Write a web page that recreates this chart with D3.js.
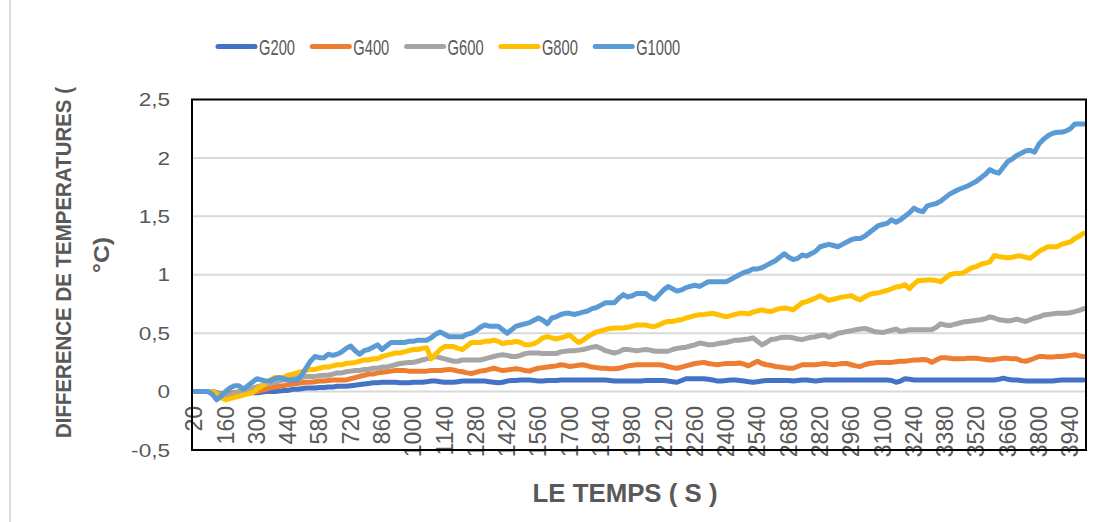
<!DOCTYPE html>
<html><head><meta charset="utf-8">
<script src="https://cdn.jsdelivr.net/npm/d3@7"></script>
<style>body{margin:0;background:#fff;} svg{display:block;}</style>
</head><body>
<svg id="c" width="1107" height="522"></svg>
<script>
const times = [
20,40,60,80,100,120,140,160,180,200,
220,240,260,280,300,320,340,360,380,400,
420,440,460,480,500,520,540,560,580,600,
620,640,660,680,700,720,740,760,780,800,
820,840,860,880,900,920,940,960,980,1000,
1020,1040,1060,1080,1100,1120,1140,1160,1180,1200,
1220,1240,1260,1280,1300,1320,1340,1360,1380,1400,
1420,1440,1460,1480,1500,1520,1540,1560,1580,1600,
1620,1640,1660,1680,1700,1720,1740,1760,1780,1800,
1820,1840,1860,1880,1900,1920,1940,1960,1980,2000,
2020,2040,2060,2080,2100,2120,2140,2160,2180,2200,
2220,2240,2260,2280,2300,2320,2340,2360,2380,2400,
2420,2440,2460,2480,2500,2520,2540,2560,2580,2600,
2620,2640,2660,2680,2700,2720,2740,2760,2780,2800,
2820,2840,2860,2880,2900,2920,2940,2960,2980,3000,
3020,3040,3060,3080,3100,3120,3140,3160,3180,3200,
3220,3240,3260,3280,3300,3320,3340,3360,3380,3400,
3420,3440,3460,3480,3500,3520,3540,3560,3580,3600,
3620,3640,3660,3680,3700,3720,3740,3760,3780,3800,
3820,3840,3860,3880,3900,3920,3940,3960,3980,4000];

const xTickLabels = ["20","160","300","440","580","720","860","1000","1140","1280","1420","1560","1700","1840","1980","2120","2260","2400","2540","2680","2820","2960","3100","3240","3380","3520","3660","3800","3940"];
const yTickValues = [-0.5,0,0.5,1,1.5,2,2.5];
const yTickLabels = ["-0,5","0","0,5","1","1,5","2","2,5"];
const seriesNames = ["G200","G400","G600","G800","G1000"];
const seriesColors = ["#4472C4","#ED7D31","#A5A5A5","#FFC000","#5B9BD5"];

const g200 = [
0,0,0,0,0,-0.01,-0.02,-0.03,-0.02,-0.02,
-0.01,-0.01,-0.01,-0.01,-0.01,-0.005,0,0,0,0.005,
0.01,0.01,0.02,0.02,0.025,0.03,0.03,0.03,0.035,0.035,
0.04,0.04,0.045,0.045,0.045,0.05,0.055,0.06,0.065,0.07,
0.075,0.075,0.08,0.08,0.08,0.08,0.075,0.075,0.075,0.08,
0.08,0.08,0.085,0.09,0.09,0.085,0.08,0.08,0.08,0.085,
0.09,0.09,0.09,0.09,0.09,0.09,0.085,0.08,0.075,0.08,
0.09,0.095,0.095,0.1,0.1,0.1,0.095,0.09,0.09,0.095,
0.095,0.095,0.1,0.1,0.1,0.1,0.1,0.1,0.1,0.1,
0.1,0.1,0.1,0.095,0.09,0.09,0.09,0.09,0.09,0.09,
0.09,0.095,0.095,0.095,0.095,0.095,0.09,0.085,0.08,0.095,
0.11,0.11,0.11,0.11,0.11,0.105,0.1,0.09,0.09,0.095,
0.1,0.1,0.095,0.09,0.085,0.08,0.085,0.09,0.095,0.095,
0.095,0.095,0.095,0.095,0.09,0.095,0.1,0.1,0.095,0.09,
0.095,0.1,0.1,0.1,0.1,0.1,0.1,0.1,0.1,0.1,
0.1,0.1,0.1,0.1,0.1,0.1,0.095,0.08,0.09,0.11,
0.105,0.1,0.1,0.1,0.1,0.1,0.1,0.1,0.1,0.1,
0.1,0.1,0.1,0.1,0.1,0.1,0.1,0.1,0.1,0.1,
0.105,0.115,0.105,0.1,0.1,0.095,0.09,0.09,0.09,0.09,
0.09,0.09,0.09,0.095,0.1,0.1,0.1,0.1,0.1,0.1];

const g400 = [
0,0,0,0,0,-0.01,-0.02,-0.02,-0.01,-0.01,
0,0,0,0,0,0.01,0.02,0.03,0.04,0.045,
0.05,0.06,0.065,0.07,0.075,0.08,0.08,0.085,0.09,0.09,
0.095,0.1,0.1,0.1,0.1,0.11,0.12,0.13,0.14,0.15,
0.15,0.16,0.165,0.17,0.175,0.18,0.18,0.18,0.175,0.175,
0.175,0.175,0.175,0.18,0.18,0.18,0.185,0.19,0.185,0.175,
0.17,0.16,0.155,0.165,0.175,0.18,0.19,0.2,0.19,0.18,
0.185,0.19,0.195,0.19,0.18,0.175,0.19,0.2,0.205,0.21,
0.215,0.22,0.23,0.225,0.215,0.22,0.225,0.23,0.22,0.21,
0.205,0.2,0.2,0.195,0.195,0.2,0.21,0.22,0.225,0.23,
0.23,0.23,0.23,0.23,0.23,0.225,0.215,0.205,0.2,0.21,
0.22,0.23,0.24,0.245,0.25,0.24,0.235,0.23,0.235,0.24,
0.24,0.24,0.245,0.235,0.22,0.24,0.26,0.24,0.23,0.225,
0.215,0.21,0.205,0.2,0.2,0.215,0.23,0.23,0.23,0.23,
0.235,0.24,0.235,0.23,0.235,0.24,0.24,0.23,0.22,0.215,
0.23,0.24,0.245,0.25,0.25,0.25,0.25,0.255,0.26,0.26,
0.265,0.27,0.27,0.275,0.27,0.25,0.27,0.29,0.29,0.285,
0.28,0.28,0.28,0.285,0.285,0.285,0.28,0.275,0.27,0.275,
0.28,0.285,0.285,0.28,0.28,0.265,0.26,0.27,0.285,0.3,
0.3,0.295,0.295,0.3,0.3,0.305,0.31,0.315,0.305,0.3];

const g600 = [
0,0,0,0,0,-0.01,-0.03,-0.04,-0.03,-0.02,
0,0.01,0.02,0.03,0.04,0.05,0.06,0.07,0.08,0.09,
0.1,0.11,0.11,0.12,0.12,0.13,0.13,0.13,0.135,0.14,
0.14,0.15,0.16,0.16,0.17,0.175,0.18,0.18,0.19,0.19,
0.2,0.2,0.21,0.21,0.22,0.23,0.24,0.245,0.25,0.25,
0.26,0.27,0.28,0.29,0.3,0.29,0.28,0.27,0.26,0.26,
0.27,0.27,0.27,0.27,0.27,0.28,0.29,0.3,0.31,0.315,
0.31,0.3,0.3,0.31,0.325,0.33,0.33,0.33,0.325,0.325,
0.325,0.325,0.34,0.345,0.35,0.35,0.355,0.36,0.37,0.38,
0.385,0.37,0.35,0.34,0.33,0.34,0.36,0.36,0.355,0.35,
0.355,0.36,0.355,0.345,0.345,0.345,0.345,0.36,0.37,0.375,
0.38,0.39,0.4,0.415,0.41,0.4,0.4,0.41,0.415,0.42,
0.43,0.44,0.44,0.445,0.45,0.46,0.43,0.4,0.42,0.445,
0.45,0.46,0.465,0.465,0.46,0.45,0.445,0.455,0.465,0.47,
0.48,0.485,0.465,0.48,0.5,0.505,0.515,0.52,0.53,0.535,
0.54,0.53,0.515,0.51,0.505,0.515,0.525,0.535,0.515,0.52,
0.53,0.53,0.53,0.53,0.53,0.53,0.55,0.58,0.57,0.565,
0.575,0.585,0.595,0.6,0.605,0.61,0.615,0.625,0.64,0.63,
0.615,0.61,0.605,0.61,0.62,0.61,0.6,0.615,0.63,0.64,
0.655,0.66,0.665,0.67,0.67,0.67,0.675,0.685,0.695,0.71];

const g800 = [
0,0,0,0,0,-0.02,-0.05,-0.07,-0.06,-0.05,
-0.04,-0.03,-0.02,-0.01,0.02,0.045,0.07,0.1,0.12,0.12,
0.12,0.14,0.15,0.16,0.17,0.18,0.19,0.19,0.2,0.21,
0.21,0.22,0.23,0.23,0.24,0.245,0.25,0.26,0.27,0.27,
0.28,0.28,0.3,0.31,0.32,0.33,0.33,0.34,0.35,0.36,
0.36,0.37,0.375,0.28,0.32,0.36,0.385,0.385,0.385,0.37,
0.36,0.39,0.42,0.42,0.42,0.43,0.43,0.44,0.43,0.41,
0.42,0.42,0.43,0.42,0.4,0.4,0.41,0.43,0.46,0.47,
0.46,0.45,0.46,0.47,0.485,0.45,0.42,0.44,0.47,0.49,
0.51,0.52,0.53,0.54,0.545,0.545,0.545,0.55,0.56,0.57,
0.57,0.57,0.56,0.557,0.57,0.59,0.6,0.6,0.61,0.615,
0.63,0.64,0.65,0.657,0.66,0.665,0.67,0.66,0.65,0.64,
0.65,0.66,0.67,0.67,0.665,0.68,0.69,0.7,0.69,0.685,
0.7,0.71,0.715,0.71,0.7,0.73,0.76,0.77,0.785,0.8,
0.82,0.8,0.78,0.79,0.8,0.81,0.815,0.82,0.8,0.785,
0.81,0.83,0.84,0.845,0.855,0.865,0.88,0.895,0.9,0.915,
0.88,0.92,0.95,0.95,0.955,0.955,0.95,0.94,0.97,1.0,
1.01,1.01,1.015,1.04,1.06,1.07,1.09,1.1,1.11,1.165,
1.155,1.15,1.145,1.15,1.16,1.16,1.15,1.14,1.17,1.2,
1.22,1.24,1.24,1.24,1.26,1.27,1.28,1.31,1.33,1.355];

const g1000 = [
0,0,0,0,-0.02,-0.07,-0.04,0,0.03,0.05,
0.05,0.02,0.05,0.08,0.11,0.1,0.09,0.09,0.11,0.12,
0.11,0.1,0.1,0.1,0.14,0.2,0.26,0.3,0.29,0.29,
0.32,0.31,0.32,0.34,0.37,0.39,0.35,0.32,0.35,0.36,
0.38,0.4,0.36,0.39,0.42,0.42,0.42,0.42,0.43,0.43,
0.44,0.44,0.44,0.46,0.49,0.51,0.49,0.47,0.47,0.47,
0.47,0.49,0.5,0.52,0.55,0.57,0.56,0.56,0.56,0.53,
0.5,0.53,0.56,0.57,0.58,0.59,0.61,0.63,0.61,0.58,
0.63,0.64,0.66,0.67,0.67,0.66,0.67,0.68,0.69,0.71,
0.72,0.74,0.76,0.76,0.76,0.8,0.83,0.81,0.82,0.84,
0.84,0.84,0.81,0.79,0.83,0.87,0.9,0.88,0.86,0.87,
0.89,0.9,0.91,0.9,0.92,0.94,0.94,0.94,0.94,0.94,
0.96,0.98,1.0,1.02,1.03,1.05,1.05,1.06,1.08,1.1,
1.12,1.15,1.18,1.15,1.13,1.14,1.17,1.16,1.18,1.2,
1.24,1.25,1.26,1.25,1.24,1.26,1.28,1.3,1.31,1.31,
1.33,1.36,1.39,1.42,1.43,1.44,1.47,1.45,1.47,1.5,
1.53,1.57,1.55,1.54,1.59,1.6,1.61,1.63,1.66,1.69,
1.71,1.73,1.745,1.76,1.78,1.8,1.83,1.86,1.9,1.88,
1.87,1.92,1.97,1.99,2.02,2.04,2.06,2.065,2.05,2.12,
2.16,2.19,2.21,2.22,2.22,2.23,2.25,2.29,2.29,2.29];

const seriesValues = [g200, g400, g600, g800, g1000];

const svg = d3.select("#c");
const L = 192, R = 1086, T = 99.5, B = 450;
const textColor = "#595959";
const font = "'Liberation Sans', Arial, sans-serif";

const x = d3.scaleBand().domain(times).range([L, R]).paddingInner(0).paddingOuter(0);
const xc = t => x(t) + x.bandwidth() / 2;
const y = d3.scaleLinear().domain([-0.5, 2.5]).range([B, T]);

// outer chart border (left edge visible)
svg.append("line").attr("x1", 10).attr("x2", 10).attr("y1", 0).attr("y2", 522)
  .attr("stroke", "#D9D9D9").attr("stroke-width", 2);

// gridlines
svg.append("g").selectAll("line")
  .data(yTickValues.filter(v => v > -0.5 && v < 2.5))
  .join("line")
  .attr("x1", L).attr("x2", R)
  .attr("y1", d => y(d)).attr("y2", d => y(d))
  .attr("stroke", "#D9D9D9").attr("stroke-width", 2);

// series lines
const line = d3.line().x((d, i) => xc(times[i])).y(d => y(d));
svg.append("g").selectAll("path")
  .data(seriesValues)
  .join("path")
  .attr("d", d => line(d))
  .attr("fill", "none")
  .attr("stroke", (d, i) => seriesColors[i])
  .attr("stroke-width", 5)
  .attr("stroke-linejoin", "round")
  .attr("stroke-linecap", "round");

// x tick labels (rotated)
svg.append("g").selectAll("text")
  .data(xTickLabels)
  .join("text")
  .attr("transform", d => `translate(${xc(+d) + 8},406) rotate(-90)`)
  .attr("text-anchor", "end")
  .attr("font-family", font)
  .attr("font-size", 23)
  .attr("fill", textColor)
  .text(d => d);

// plot frame
svg.append("rect")
  .attr("x", L).attr("y", T).attr("width", R - L).attr("height", B - T)
  .attr("fill", "none").attr("stroke", "#000").attr("stroke-width", 2);

// y tick labels
svg.append("g").selectAll("text")
  .data(yTickValues)
  .join("text")
  .attr("transform", (d) => `translate(170,${y(d)}) scale(1.22,1)`)
  .attr("dy", "0.36em")
  .attr("text-anchor", "end")
  .attr("font-family", font)
  .attr("font-size", 18.5)
  .attr("fill", textColor)
  .text((d, i) => yTickLabels[i]);

// legend
const legendX0 = 217, legendStep = 94.3, legendY = 46.5;
const lg = svg.append("g").selectAll("g").data(seriesNames).join("g")
  .attr("transform", (d, i) => `translate(${legendX0 + i * legendStep},${legendY})`);
lg.append("line").attr("x1", 1).attr("x2", 38).attr("y1", 0).attr("y2", 0)
  .attr("stroke", (d, i) => seriesColors[i]).attr("stroke-width", 5).attr("stroke-linecap", "round");
lg.append("text").attr("x", 42).attr("y", 8)
  .attr("font-family", font).attr("font-size", 22).attr("fill", textColor)
  .attr("textLength", d => d.length > 4 ? 44 : 36).attr("lengthAdjust", "spacingAndGlyphs")
  .text(d => d);

// x axis title
svg.append("text")
  .attr("x", (L + R) / 2 - 14).attr("y", 502)
  .attr("text-anchor", "middle")
  .attr("font-family", font).attr("font-size", 25).attr("font-weight", "bold")
  .attr("fill", textColor)
  .attr("textLength", 185).attr("lengthAdjust", "spacingAndGlyphs")
  .text("LE TEMPS ( S )");

// y axis title (two lines)
svg.append("text")
  .attr("transform", "translate(71,262.5) rotate(-90)")
  .attr("text-anchor", "middle")
  .attr("font-family", font).attr("font-size", 22).attr("font-weight", "bold")
  .attr("fill", textColor)
  .attr("textLength", 351).attr("lengthAdjust", "spacingAndGlyphs")
  .text("DIFFERENCE DE TEMPERATURES (");
svg.append("text")
  .attr("transform", "translate(109,255) rotate(-90)")
  .attr("text-anchor", "middle")
  .attr("font-family", font).attr("font-size", 22).attr("font-weight", "bold")
  .attr("fill", textColor)
  .attr("textLength", 36).attr("lengthAdjust", "spacingAndGlyphs")
  .text("°C)");
</script>
</body></html>
